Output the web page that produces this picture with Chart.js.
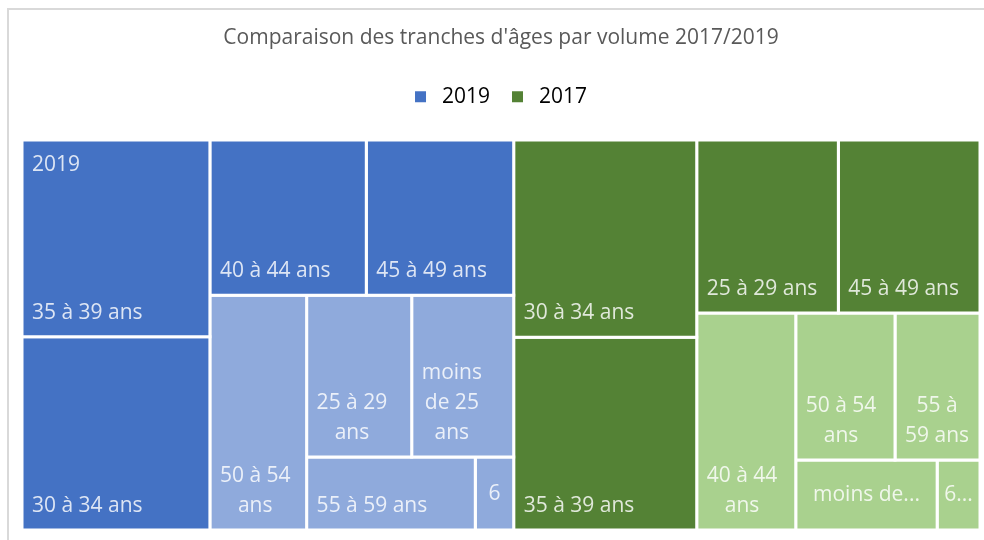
<!DOCTYPE html>
<html lang="fr">
<head>
<meta charset="utf-8">
<title>Comparaison des tranches d'âges</title>
<script src="https://cdn.jsdelivr.net/npm/chart.js@4/dist/chart.umd.min.js"></script>
<style>
  html, body { margin: 0; padding: 0; background: #fff; }
  canvas { display: block; }
</style>
</head>
<body>
<canvas id="treemap" width="984" height="540"></canvas>
<script>
// Données (volumes par tranche d'âge)
const categories = ['moins de 25 ans', '25 à 29 ans', '30 à 34 ans', '35 à 39 ans', '40 à 44 ans',
                    '45 à 49 ans', '50 à 54 ans', '55 à 59 ans', '60 ans et plus'];
const annees = ['2019', '2017'];
const volumes2019 = [165, 170, 363, 370, 243, 229, 227, 123, 28];
const volumes2017 = [99, 245, 361, 353, 215, 245, 146, 125, 30];

// Couleurs : les 4 plus gros blocs de chaque année en foncé, le reste en clair
const couleursFoncees = ['#4472C4', '#548235'];
const couleursClaires = ['#8FAADC', '#A9D18E'];

// Proportions de la zone de tracé (sert uniquement au calcul du pavage)
const ZONE_L = 958;
const ZONE_H = 390;
// Rapport hauteur/largeur visé pour chaque tuile (pavage "squarified")
const CIBLE = 1.35;

const somme = arr => arr.reduce((a, n) => a + n.aire, 0);

// Écart d'une rangée à la forme visée : le pire des rectangles compte
function ecart(rangee, cote, colonne) {
    const ep = somme(rangee) / cote;
    let pire = 0;
    rangee.forEach(nd => {
        const l = nd.aire / ep;
        const ratio = colonne ? l / ep : ep / l;
        pire = Math.max(pire, Math.abs(Math.log(ratio) - Math.log(CIBLE)));
    });
    return pire;
}

// Découpe un rectangle en bandes successives le long du plus petit côté
function decouper(noeuds, x, y, w, h) {
    let reste = noeuds.slice();
    while (reste.length) {
        const colonne = w >= h;
        const cote = colonne ? h : w;
        let n = 1;
        let score = ecart(reste.slice(0, 1), cote, colonne);
        while (n < reste.length) {
            const s = ecart(reste.slice(0, n + 1), cote, colonne);
            if (s > score) break;
            score = s;
            n++;
        }
        const rangee = reste.slice(0, n);
        const epaisseur = somme(rangee) / cote;
        let pos = colonne ? y : x;
        rangee.forEach(nd => {
            const l = nd.aire / epaisseur;
            nd.rect = colonne
                ? { x0: x, x1: x + epaisseur, y0: pos, y1: pos + l }
                : { x0: pos, x1: pos + l, y0: y, y1: y + epaisseur };
            pos += l;
        });
        if (colonne) { x += epaisseur; w -= epaisseur; }
        else { y += epaisseur; h -= epaisseur; }
        reste = reste.slice(n);
    }
}

// Construction du pavage : d'abord les années, puis les tranches dans chaque année
const series = [volumes2019, volumes2017];
const total = series.flat().reduce((a, v) => a + v, 0);
const k = ZONE_L * ZONE_H / total;

const groupes = annees.map((annee, g) => ({
    annee, g,
    aire: series[g].reduce((a, v) => a + v, 0) * k
})).sort((a, b) => b.aire - a.aire);
decouper(groupes, 0, 0, ZONE_L, ZONE_H);

const datasets = [];
groupes.forEach(grp => {
    const tuiles = categories.map((cat, i) => ({ cat, aire: series[grp.g][i] * k }))
        .sort((a, b) => b.aire - a.aire);
    const r = grp.rect;
    decouper(tuiles, r.x0, r.y0, r.x1 - r.x0, r.y1 - r.y0);
    tuiles.forEach((t, rang) => {
        const { x0, x1, y0, y1 } = t.rect;
        datasets.push({
            label: grp.annee + ' - ' + t.cat,
            data: [{ x: x0, y: y0 }, { x: x1, y: y0 }, { x: x1, y: y1 }, { x: x0, y: y1 }, { x: x0, y: y0 }],
            showLine: true,
            fill: 'shape',
            tension: 0,
            pointRadius: 0,
            borderColor: '#ffffff',
            borderWidth: 3,
            backgroundColor: rang < 4 ? couleursFoncees[grp.g] : couleursClaires[grp.g],
            tuile: { nom: t.cat, rang, groupe: grp.g, annee: grp.annee, ...t.rect }
        });
    });
});

// Coupe le texte en lignes, avec "..." si la tuile est trop petite
function lignesEtiquette(ctx, texte, largeurMax, nbMax) {
    const mots = texte.split(' ');
    let lignes = [];
    let courante = '';
    mots.forEach(m => {
        const essai = courante ? courante + ' ' + m : m;
        if (!courante || ctx.measureText(essai).width <= largeurMax) courante = essai;
        else { lignes.push(courante); courante = m; }
    });
    lignes.push(courante);

    const tropLarge = lignes.some(l => ctx.measureText(l).width > largeurMax);
    if (lignes.length <= nbMax && !tropLarge) return { lignes, coupe: false };

    lignes = lignes.slice(0, Math.max(nbMax, 1));
    let derniere = lignes[lignes.length - 1];
    const mots2 = derniere.split(' ');
    while (mots2.length > 1 && ctx.measureText(mots2.join(' ') + '...').width > largeurMax) mots2.pop();
    derniere = mots2.join(' ');
    if (ctx.measureText(derniere + '...').width <= largeurMax) {
        derniere += '...';
    } else {
        // un seul mot trop long : on garde les premiers caractères (marge réduite)
        const marge = largeurMax + 8;
        let n = derniere.length - 1;
        while (n > 1 && ctx.measureText(derniere.slice(0, n) + '...').width > marge) n--;
        derniere = ctx.measureText(derniere.slice(0, n) + '...').width <= marge
            ? derniere.slice(0, n) + '...'
            : derniere.slice(0, 1);
    }
    lignes[lignes.length - 1] = derniere;
    return { lignes, coupe: true };
}

const etiquettesTuiles = {
    id: 'etiquettesTuiles',
    afterDatasetsDraw(chart) {
        const { ctx, scales: { x, y } } = chart;
        const interligne = 30;
        ctx.save();
        ctx.font = '21px "Open Sans"';
        ctx.fillStyle = 'rgba(255, 255, 255, 0.82)';
        ctx.textBaseline = 'middle';
        chart.data.datasets.forEach(ds => {
            const t = ds.tuile;
            const gauche = x.getPixelForValue(t.x0);
            const droite = x.getPixelForValue(t.x1);
            const haut = y.getPixelForValue(t.y0);
            const bas = y.getPixelForValue(t.y1);
            const larg = droite - gauche;
            const haute = bas - haut;

            // Nom de l'année dans le coin de la première tuile (Excel n'affiche que 2019)
            if (t.rang === 0 && t.groupe === 0) {
                ctx.textAlign = 'left';
                ctx.fillText(t.annee, gauche + 10, haut + 25);
            }

            const nbMax = Math.max(1, Math.floor((haute - 20) / interligne));
            const { lignes, coupe } = lignesEtiquette(ctx, t.nom, larg - 18, nbMax);
            ctx.textAlign = 'center';
            if (coupe) {
                const cx = (gauche + droite) / 2;
                const y0 = (haut + bas) / 2 - (lignes.length - 1) * interligne / 2;
                lignes.forEach((l, i) => ctx.fillText(l, cx, y0 + i * interligne));
            } else {
                const bloc = Math.max(...lignes.map(l => ctx.measureText(l).width));
                const cx = gauche + 10 + bloc / 2;
                const y0 = bas - 24 - (lignes.length - 1) * interligne;
                lignes.forEach((l, i) => ctx.fillText(l, cx, y0 + i * interligne));
            }
        });
        ctx.restore();
    }
};

// Cadre gris clair du graphique Excel
const cadre = {
    id: 'cadre',
    beforeDraw(chart) {
        const ctx = chart.ctx;
        ctx.save();
        ctx.strokeStyle = '#d9d9d9';
        ctx.lineWidth = 2;
        ctx.strokeRect(8, 9, chart.width + 20, chart.height + 20);
        ctx.restore();
    }
};

new Chart(document.getElementById('treemap'), {
    type: 'scatter',
    data: { datasets },
    options: {
        responsive: false,
        animation: false,
        events: [],
        layout: { padding: { left: 22, right: 4, top: 0, bottom: 10 } },
        scales: {
            x: { type: 'linear', min: 0, max: ZONE_L, display: false },
            y: { type: 'linear', min: 0, max: ZONE_H, reverse: true, display: false }
        },
        plugins: {
            title: {
                display: true,
                text: "Comparaison des tranches d'âges par volume 2017/2019",
                color: '#595959',
                font: { family: 'Open Sans', size: 21, weight: 'normal' },
                padding: { top: 25, bottom: 14 }
            },
            // sous-titre vide : simple espace entre la légende et les tuiles
            subtitle: {
                display: true,
                text: '',
                weight: 500,
                font: { size: 9 },
                padding: { top: 0, bottom: 12 }
            },
            legend: {
                display: true,
                onClick: null,
                labels: {
                    boxWidth: 11,
                    boxHeight: 11,
                    padding: 22,
                    color: '#595959',
                    font: { family: 'Open Sans', size: 21 },
                    generateLabels: () => annees.map((a, g) => ({
                        text: ' ' + a,
                        fillStyle: couleursFoncees[g],
                        strokeStyle: couleursFoncees[g],
                        lineWidth: 0,
                        hidden: false,
                        datasetIndex: g
                    }))
                }
            },
            tooltip: { enabled: false }
        }
    },
    plugins: [cadre, etiquettesTuiles]
});
</script>
</body>
</html>
